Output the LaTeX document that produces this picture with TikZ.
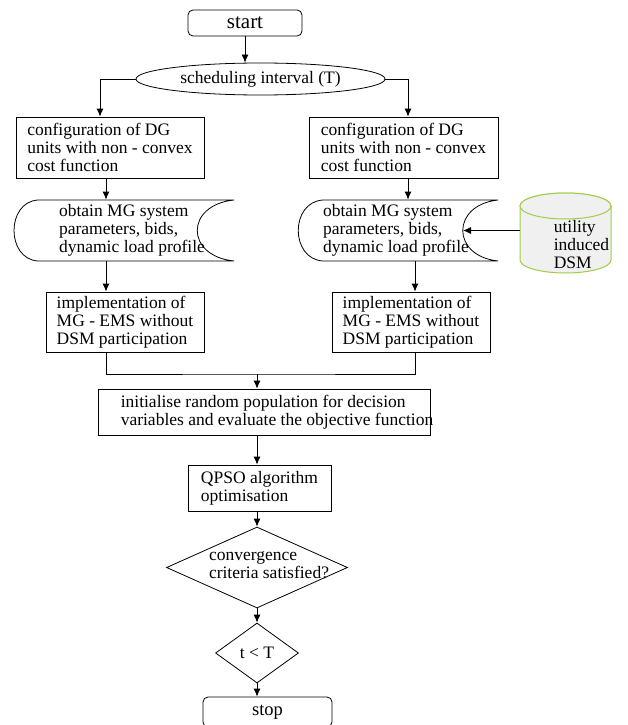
\documentclass[tikz,border=0pt]{standalone}
\usepackage{fontspec}
\setmainfont{Liberation Serif}
\usetikzlibrary{shapes.geometric,arrows.meta}

\definecolor{dbgreen}{RGB}{160,205,70}

\tikzset{
    txt/.style={font=\fontsize{17.5}{18}\selectfont, align=left},
    procbox/.style={txt, draw, rectangle, inner sep=0pt},
    termbox/.style={draw, rectangle, rounded corners=5pt, inner sep=0pt, minimum width=#1},
    ioellipse/.style={txt, draw, ellipse, inner sep=0pt},
    decision/.style={draw, diamond, inner sep=0pt},
    datatext/.style={txt, inner sep=0pt, minimum height=61pt},
    dbstore/.style={draw=dbgreen, fill=gray!12, line width=1pt}
}

\begin{document}
\begin{tikzpicture}[x=1pt, y=1pt, line width=0.8pt, >={Latex[length=8pt,width=7pt]}]
    \useasboundingbox (0,0) rectangle (627,-725);

    % lanes of the vertical connectors
    \coordinate (dropL) at (100,0);
    \coordinate (laneL) at (106,0);
    \coordinate (laneR) at (408,0);
    \coordinate (laneRb) at (415,0);

    \node[termbox=114pt, minimum height=26pt, font=\fontsize{21}{21}\selectfont] (start) at (245,-23) {start};
    \node[ioellipse, minimum width=249pt, minimum height=32pt] (sched) at (260.5,-79) {scheduling interval (T)};

    % left branch
    \node[procbox, minimum width=188pt, minimum height=61pt] (cfgL) at (110,-147.5) {configuration of DG\\units with non - convex\\cost function};
    \node[datatext] (dataL) at (132,-230.5) {obtain MG system\\parameters, bids,\\dynamic load profile};
    \draw (38,-200) -- (234,-200) .. controls (185,-205) and (185,-256) .. (234,-261)
        -- (38,-261) .. controls (6,-259) and (6,-202) .. (38,-200);
    \node[procbox, minimum width=158pt, minimum height=60pt] (implL) at (125,-322) {implementation of\\MG - EMS without\\DSM participation};

    % right branch
    \node[procbox, minimum width=189pt, minimum height=61pt] (cfgR) at (403.5,-147.5) {configuration of DG\\units with non - convex\\cost function};
    \node[datatext] (dataR) at (396,-230.5) {obtain MG system\\parameters, bids,\\dynamic load profile};
    \coordinate (dataRin) at (463,-230.5);
    \draw (323,-200) -- (498,-200) .. controls (451,-205) and (451,-256) .. (498,-261)
        -- (323,-261) .. controls (290,-259) and (290,-202) .. (323,-200);
    \node[procbox, minimum width=158pt, minimum height=60pt] (implR) at (411,-322) {implementation of\\MG - EMS without\\DSM participation};

    % utility store
    \draw[dbstore] (520,-206) -- (520,-260) arc[start angle=180, end angle=360, x radius=45.5, y radius=13]
        -- (611,-206) arc[start angle=0, end angle=180, x radius=45.5, y radius=13] -- cycle;
    \draw[dbstore] (565.5,-206) ellipse[x radius=45.5, y radius=13];
    \node[inner sep=0pt, minimum width=91pt, minimum height=80pt,
        label={[txt, xshift=16pt, yshift=-12pt]center:utility\\induced\\DSM}] (dsm) at (565.5,-233) {};

    \coordinate (join) at (257,-374);
    \node[procbox, minimum width=332pt, minimum height=46pt,
        label={[txt, xshift=13pt]center:initialise random population for decision\\variables and evaluate the objective function}] (init) at (264,-412) {};
    \node[procbox, minimum width=143pt, minimum height=46pt] (qpso) at (259.5,-488) {QPSO algorithm\\optimisation};
    \node[decision, minimum width=181pt, minimum height=81pt,
        label={[txt, xshift=12pt, yshift=2pt]center:convergence\\criteria satisfied?}] (conv) at (257,-567.5) {};
    \node[decision, txt, minimum width=83pt, minimum height=60pt] (tlt) at (257,-653) {t < T};
    \node[termbox=129pt, minimum height=30pt, font=\fontsize{18.5}{18.5}\selectfont] (stop) at (267.5,-712) {stop};

    % connectors
    \draw[->] (start.south) -- (start.south |- sched.north);
    \draw[->] (sched.west) -| (dropL |- cfgL.north);
    \draw[->] (sched.east) -| (laneR |- cfgR.north);
    \draw[->] (laneL |- cfgL.south) -- (laneL |- dataL.north);
    \draw[->] (laneL |- dataL.south) -- (laneL |- implL.north);
    \draw[->] (laneR |- cfgR.south) -- (laneR |- dataR.north);
    \draw[->] (laneRb |- dataR.south) -- (laneRb |- implR.north);
    \draw[->] (dsm.west |- dataRin) -- (dataRin);
    \draw (laneL |- implL.south) |- (join) -| (laneRb |- implR.south);
    \draw[->] (join) -- (join |- init.north);
    \draw[->] (init.south -| conv) -- (conv |- qpso.north);
    \draw[->] (qpso.south -| conv) -- (conv.north);
    \draw[->] (conv.south) -- (tlt.north);
    \draw[->] (tlt.south) -- (tlt.south |- stop.north);
\end{tikzpicture}
\end{document}
